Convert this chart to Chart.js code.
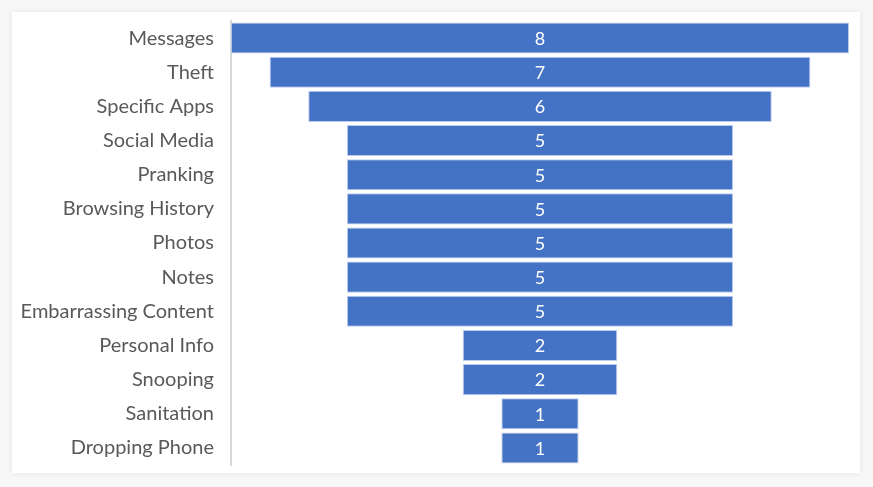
<!DOCTYPE html>
<html>
<head>
<meta charset="utf-8">
<script src="https://cdn.jsdelivr.net/npm/chart.js@4"></script>
<style>
  html, body { margin: 0; padding: 0; background: #f7f7f7; }
  #card {
    position: absolute; left: 12px; top: 12px; width: 848px; height: 461px;
    background: #fff; box-shadow: 0 0 6px rgba(0,0,0,0.08);
  }
  canvas { display: block; }
</style>
</head>
<body>
<div id="card"><canvas id="funnel" width="848" height="461"></canvas></div>
<script>
// funnel categories and counts
var categories = ['Messages', 'Theft', 'Specific Apps', 'Social Media', 'Pranking',
  'Browsing History', 'Photos', 'Notes', 'Embarrassing Content', 'Personal Info',
  'Snooping', 'Sanitation', 'Dropping Phone'];
var counts = [8, 7, 6, 5, 5, 5, 5, 5, 5, 2, 2, 1, 1];
var maxCount = 8;

// centre each bar so it looks like a funnel
var spans = counts.map(function (v) {
  return [(maxCount - v) / 2, (maxCount + v) / 2];
});

// white value labels in the middle of each bar
var valueLabels = {
  id: 'valueLabels',
  afterDatasetsDraw: function (chart) {
    var ctx = chart.ctx;
    var meta = chart.getDatasetMeta(0);
    ctx.save();
    ctx.fillStyle = '#ffffff';
    ctx.font = '18px Lato';
    ctx.textAlign = 'center';
    ctx.textBaseline = 'middle';
    meta.data.forEach(function (bar, i) {
      var c = bar.getCenterPoint();
      ctx.fillText(counts[i], c.x, c.y + 1);
    });
    ctx.restore();
  }
};

var ctx = document.getElementById('funnel').getContext('2d');
var funnel = new Chart(ctx, {
  type: 'bar',
  data: {
    labels: categories,
    datasets: [{
      data: spans,
      backgroundColor: '#4472C4',
      borderColor: 'rgba(170,192,232,0.8)',
      borderWidth: 1,
      borderSkipped: false,
      categoryPercentage: 1,
      barPercentage: 0.91
    }]
  },
  options: {
    indexAxis: 'y',
    responsive: false,
    animation: false,
    layout: { padding: { top: 9, right: 11, bottom: 8, left: 0 } },
    plugins: { legend: { display: false }, tooltip: { enabled: false } },
    scales: {
      x: { display: false, min: 0, max: maxCount },
      y: {
        afterFit: function (scale) {
          scale.width = 219;
          scale.paddingTop = 0;
          scale.paddingBottom = 0;
        },
        grid: { display: true, drawOnChartArea: false, drawTicks: false },
        border: { display: true, color: '#d9d9d9', width: 2 },
        ticks: { color: '#595959', font: { family: 'Lato', size: 20 }, padding: 17 }
      }
    }
  },
  plugins: [valueLabels]
});
</script>
</body>
</html>
